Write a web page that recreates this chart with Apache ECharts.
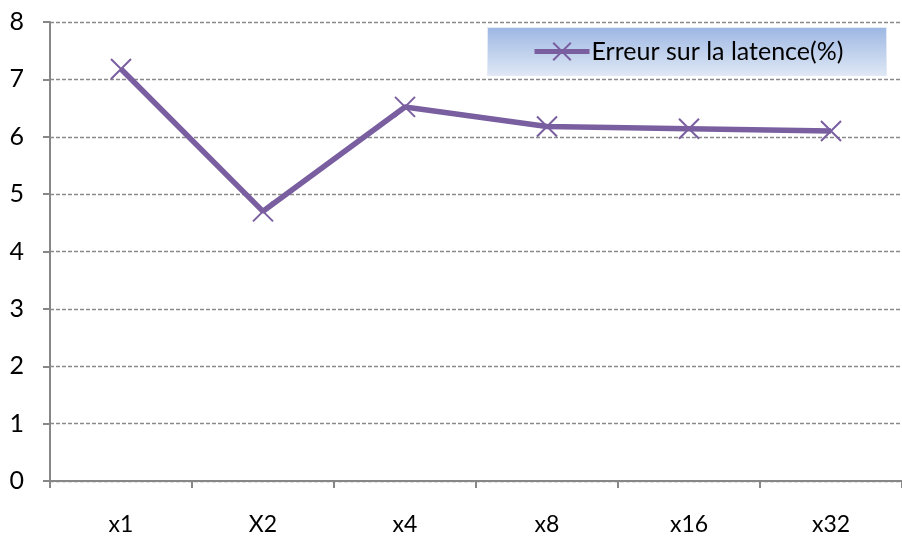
<!DOCTYPE html>
<html>
<head>
<meta charset="utf-8">
<script src="https://cdn.jsdelivr.net/npm/echarts@6/dist/echarts.min.js"></script>
<style>
  html, body { margin: 0; padding: 0; background: #fff; }
  #chart { width: 902px; height: 536px; }
</style>
</head>
<body>
<div id="chart"></div>
<script>
// Facteurs de mise à l'échelle et erreur mesurée sur la latence
const categories = ['x1', 'X2', 'x4', 'x8', 'x16', 'x32'];
const latencyError = [7.18, 4.70, 6.52, 6.18, 6.14, 6.10];
const seriesName = 'Erreur sur la latence(%)';
const yTicks = [0, 1, 2, 3, 4, 5, 6, 7, 8];

const FONT = 'Lato';
const PURPLE = '#7a5fa0';
const GREY = '#878787';
const crossSymbol = 'path://M0,0L10,10M10,0L0,10';

const chart = echarts.init(document.getElementById('chart'), null, { renderer: 'canvas' });

chart.setOption({
  animation: false,
  backgroundColor: '#fff',
  textStyle: { fontFamily: FONT },
  grid: { left: 50, right: -12, top: 22, bottom: 55, containLabel: false },
  graphic: [{
    type: 'rect',
    left: 487, top: 27, z: 0,
    shape: { width: 399, height: 48 },
    style: {
      fill: new echarts.graphic.LinearGradient(0, 0, 0, 1, [
        { offset: 0, color: '#9db7e3' },
        { offset: 1, color: '#dfe8f5' }
      ]),
      stroke: '#e4eaf3', lineWidth: 1
    }
  }],
  legend: {
    left: 532, top: 39,
    padding: 0,
    itemWidth: 55, itemHeight: 22,
    itemGap: 0,
    z: 5,
    lineStyle: { color: PURPLE, width: 5 },
    textStyle: { fontFamily: FONT, fontSize: 25, color: '#000', padding: [0, 0, 0, -3] },
    data: [{ name: seriesName }]
  },
  xAxis: {
    type: 'category',
    data: categories,
    boundaryGap: true,
    axisLine: { lineStyle: { color: GREY, width: 2 } },
    axisTick: { show: true, length: 7, lineStyle: { color: GREY, width: 2 } },
    axisLabel: { fontFamily: FONT, fontSize: 23, color: '#000', margin: 32 },
    splitLine: { show: false }
  },
  yAxis: {
    type: 'value',
    min: 0, max: 8, interval: 1,
    axisLine: { show: true, lineStyle: { color: GREY, width: 2 } },
    axisTick: { show: true, length: 7, lineStyle: { color: GREY, width: 2 } },
    axisLabel: {
      fontFamily: FONT, fontSize: 25, color: '#000', margin: 26,
      formatter: v => (yTicks.includes(v) ? String(v) : '')
    },
    splitLine: { show: true, lineStyle: { color: '#8a8a8a', width: 1.3, type: [4, 2] } }
  },
  series: [{
    name: seriesName,
    type: 'line',
    data: latencyError,
    lineStyle: { color: PURPLE, width: 5.5 },
    symbol: crossSymbol,
    symbolSize: 20,
    itemStyle: { color: 'rgba(0,0,0,0)', borderColor: PURPLE, borderWidth: 2 },
    z: 3
  }]
});
</script>
</body>
</html>
